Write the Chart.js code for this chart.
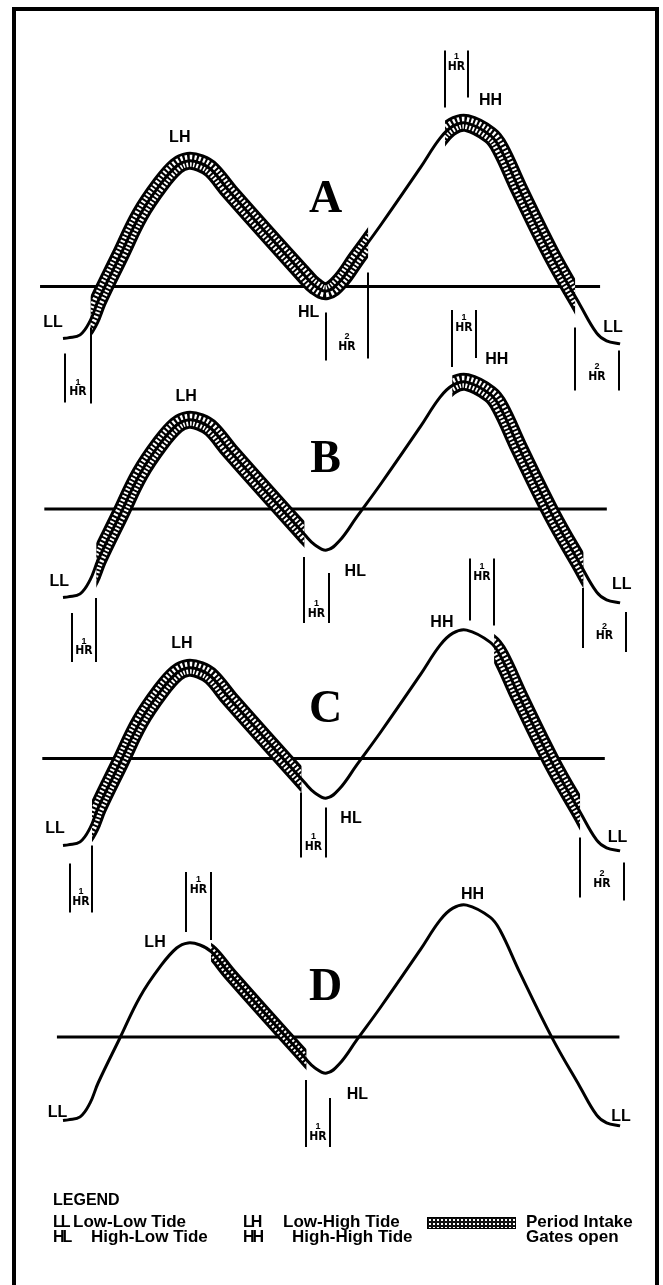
<!DOCTYPE html>
<html>
<head>
<meta charset="utf-8">
<title>Intake gate schedules against the tide</title>
<script src="https://cdn.jsdelivr.net/npm/chart.js"></script>
<style>
  body { margin: 0; width: 663px; height: 1285px; background: #fff; position: relative; overflow: hidden;
         font-family: "Liberation Sans", Arial, sans-serif; }
  #frame { position: absolute; left: 12px; top: 7px; width: 639px; height: 1320px; border: 4px solid #000; }
  .panel { position: absolute; left: 0; }
  .lg { position: absolute; font-weight: bold; font-size: 17px; line-height: 16px; white-space: pre; color: #000; }
  .ab { font-size: 16px; letter-spacing: -2px; }
  #swatch { position: absolute; left: 427px; top: 1217px; width: 87px; height: 10px; border: 1px solid #000;
            background-color: #111;
            background-image: radial-gradient(circle, #fff 0.9px, transparent 1.3px);
            background-size: 4px 4px; }
</style>
</head>
<body>
<div id="frame"></div>
<canvas id="panel-A" class="panel" width="663" height="405" style="top:40px"></canvas>
<canvas id="panel-B" class="panel" width="663" height="405" style="top:299px"></canvas>
<canvas id="panel-C" class="panel" width="663" height="405" style="top:547px"></canvas>
<canvas id="panel-D" class="panel" width="663" height="405" style="top:822px"></canvas>

<div class="lg" style="left:53px;top:1192px;font-size:16px">LEGEND</div>
<div class="lg ab" style="left:53px;top:1214px">LL</div>
<div class="lg" style="left:73px;top:1214px">Low-Low Tide</div>
<div class="lg ab" style="left:53px;top:1229px">HL</div>
<div class="lg" style="left:91px;top:1229px">High-Low Tide</div>
<div class="lg ab" style="left:243px;top:1214px">LH</div>
<div class="lg" style="left:283px;top:1214px">Low-High Tide</div>
<div class="lg ab" style="left:243px;top:1229px">HH</div>
<div class="lg" style="left:292px;top:1229px">High-High Tide</div>
<div id="swatch"></div>
<div class="lg" style="left:526px;top:1214px">Period Intake</div>
<div class="lg" style="left:526px;top:1229px">Gates open</div>

<script>
// tide curve: hours after low-low tide, feet above low-low tide
const tideHours = [0, 0.22, 0.76, 1.2, 1.56, 2.53, 3.42, 4.31, 5.05, 5.56, 6.09, 6.6, 7.42, 10.76, 11.2, 11.72,
                   12.3, 13.05, 14.09, 15.87, 16.76, 17.33, 17.94, 18.98, 19.42, 20.31, 21.72, 22.98, 23.72, 24.16, 24.76];
const tideFeet = [0.05, 0.07, 0.17, 0.63, 1.3, 2.8, 4.17, 5.17, 5.8, 5.97, 5.9, 5.67, 4.93, 2.13, 1.8, 1.63,
                  1.95, 2.73, 3.8, 5.73, 6.73, 7.13, 7.23, 6.83, 6.4, 4.97, 2.83, 1.17, 0.23, -0.03, -0.13];

// reference level drawn across each panel (ft) and its extent (hours)
const meanLevel = [1.78, 3.0, 2.95, 2.83];
const meanStart = [-1.02, -0.83, -0.92, -0.27];
const meanEnd = [23.87, 24.17, 24.08, 24.73];

// periods the intake gates are open (hours)
const gatesA = [[1.23, 13.56], [16.98, 22.76]];
const gatesB = [[1.48, 10.73], [17.3, 23.13]];
const gatesC = [[1.29, 10.6], [19.16, 22.98]];
const gatesD = [[6.58, 10.82]];

const tideLabels = ['LL', 'LH', 'HL', 'HH', 'LL'];
const panelLetters = ['A', 'B', 'C', 'D'];

// where the tide names, letters and hour brackets sit in each panel
const notes = {
  'panel-A': {
    marks: [[-0.44, 0.58], [5.19, 6.76], [10.92, 0.93], [19.0, 7.98], [24.44, 0.43]],
    letterAt: [11.67, 4.65],
    brackets: [
      { from: 0.09, to: 1.23, hrs: 1, left: [-0.45, -2.08], right: [0.42, -2.12], text: -1.57 },
      { from: 11.67, to: 13.56, hrs: 2, left: [0.92, -0.68], right: [2.25, -0.62], text: -0.05 },
      { from: 16.98, to: 18.02, hrs: 1, left: [9.65, 7.75], right: [9.65, 8.08], text: 9.28 },
      { from: 22.76, to: 24.71, hrs: 2, left: [0.42, -1.68], right: [-0.35, -1.68], text: -1.05 }
    ]
  },
  'panel-B': {
    marks: [[-0.17, 0.58], [5.47, 6.74], [12.99, 0.91], [19.28, 7.97], [24.83, 0.47]],
    letterAt: [11.67, 4.63],
    brackets: [
      { from: 0.4, to: 1.48, hrs: 1, left: [-0.47, -2.1], right: [0.03, -2.1], text: -1.57 },
      { from: 10.73, to: 11.82, hrs: 1, left: [1.4, -0.8], right: [0.87, -0.8], text: -0.33 },
      { from: 17.29, to: 18.36, hrs: 1, left: [9.63, 7.73], right: [9.63, 8.03], text: 9.22 },
      { from: 23.13, to: 25.02, hrs: 2, left: [0.37, -1.63], right: [-0.43, -1.77], text: -1.07 }
    ]
  },
  'panel-C': {
    marks: [[-0.36, 0.61], [5.28, 6.77], [12.8, 0.94], [16.84, 7.49], [24.64, 0.33]],
    letterAt: [11.67, 4.57],
    brackets: [
      { from: 0.31, to: 1.29, hrs: 1, left: [-0.55, -2.18], right: [0.05, -2.18], text: -1.65 },
      { from: 10.6, to: 11.67, hrs: 1, left: [1.82, -0.35], right: [1.32, -0.35], text: 0.18 },
      { from: 18.09, to: 19.16, hrs: 1, left: [9.62, 7.55], right: [9.62, 7.38], text: 9.18 },
      { from: 22.98, to: 24.92, hrs: 2, left: [0.32, -1.68], right: [-0.52, -1.78], text: -1.05 }
    ]
  },
  'panel-D': {
    marks: [[-0.24, 0.32], [4.09, 5.97], [13.08, 0.9], [18.2, 7.57], [24.8, 0.18]],
    letterAt: [11.67, 4.45],
    brackets: [
      { from: 5.47, to: 6.58, hrs: 1, left: [8.33, 6.33], right: [8.33, 6.07], text: 7.9 },
      { from: 10.82, to: 11.87, hrs: 1, left: [1.4, -0.83], right: [0.8, -0.83], text: -0.33 }
    ]
  }
};

const tidePoints = tideHours.map((t, i) => ({ x: t, y: tideFeet[i] }));

// clip the band datasets to the gate-open periods
const gateClip = {
  id: 'gateClip',
  beforeDatasetDraw(chart, args) {
    const gates = chart.data.datasets[args.index].gates;
    if (!gates) return;
    const ctx = chart.ctx, x = chart.scales.x;
    ctx.save();
    ctx.beginPath();
    gates.forEach(([a, b]) => {
      const x1 = x.getPixelForValue(a), x2 = x.getPixelForValue(b);
      ctx.rect(x1, 0, x2 - x1, chart.height);
    });
    ctx.clip();
  },
  afterDatasetDraw(chart, args) {
    if (chart.data.datasets[args.index].gates) chart.ctx.restore();
  }
};

const tideNotes = {
  id: 'tideNotes',
  afterDatasetsDraw(chart) {
    const n = notes[chart.canvas.id];
    const { ctx, scales: { x, y } } = chart;
    ctx.save();
    ctx.fillStyle = '#000';
    ctx.strokeStyle = '#000';
    ctx.textAlign = 'center';
    ctx.textBaseline = 'middle';

    ctx.font = 'bold 16px "Liberation Sans", Arial, sans-serif';
    n.marks.forEach(([t, ft], i) => ctx.fillText(tideLabels[i], x.getPixelForValue(t), y.getPixelForValue(ft)));

    ctx.font = 'bold 46px "Liberation Serif", "Times New Roman", serif';
    ctx.fillText(chart.options.plugins.tideNotes.letter, x.getPixelForValue(n.letterAt[0]), y.getPixelForValue(n.letterAt[1]));

    ctx.lineWidth = 2;
    n.brackets.forEach(b => {
      const xl = Math.round(x.getPixelForValue(b.from)), xr = Math.round(x.getPixelForValue(b.to));
      ctx.beginPath();
      ctx.moveTo(xl, y.getPixelForValue(b.left[0]));
      ctx.lineTo(xl, y.getPixelForValue(b.left[1]));
      ctx.moveTo(xr, y.getPixelForValue(b.right[0]));
      ctx.lineTo(xr, y.getPixelForValue(b.right[1]));
      ctx.stroke();
      const cx = (xl + xr) / 2, cy = y.getPixelForValue(b.text);
      ctx.font = 'bold 9px "Liberation Sans", Arial, sans-serif';
      ctx.fillText(String(b.hrs), cx, cy - 5);
      ctx.font = 'bold 12px "Liberation Sans Narrow", "DejaVu Sans Condensed", sans-serif';
      ctx.fillText('HR', cx, cy + 5);
    });
    ctx.restore();
  }
};

function drawPanel(index, gates) {
  const letter = panelLetters[index];
  const bandWidth = letter === 'D' ? 14 : 18;
  const curve = { tension: 0.4, pointRadius: 0, fill: false };
  new Chart(document.getElementById('panel-' + letter), {
    type: 'line',
    data: {
      datasets: [
        Object.assign({ data: tidePoints, borderColor: '#000', borderWidth: 3, borderJoinStyle: 'round' }, curve),
        Object.assign({ data: tidePoints, gates: gates, borderColor: '#fff', borderWidth: bandWidth - 6,
                        borderDash: [2, 2] }, curve),
        Object.assign({ data: tidePoints, gates: gates, borderColor: '#000', borderWidth: bandWidth,
                        borderCapStyle: 'butt' }, curve),
        {
          data: [{ x: meanStart[index], y: meanLevel[index] }, { x: meanEnd[index], y: meanLevel[index] }],
          borderColor: '#000',
          borderWidth: 3,
          tension: 0,
          pointRadius: 0,
          fill: false
        }
      ]
    },
    options: {
      responsive: false,
      animation: false,
      events: [],
      layout: { padding: 0 },
      plugins: {
        legend: { display: false },
        tooltip: { enabled: false },
        tideNotes: { letter: letter }
      },
      scales: {
        x: { type: 'linear', min: -2.8, max: 26.6667, display: false },
        y: { type: 'linear', min: -3.5, max: 10, display: false }
      }
    },
    plugins: [gateClip, tideNotes]
  });
}

drawPanel(0, gatesA);
drawPanel(1, gatesB);
drawPanel(2, gatesC);
drawPanel(3, gatesD);
</script>
</body>
</html>
